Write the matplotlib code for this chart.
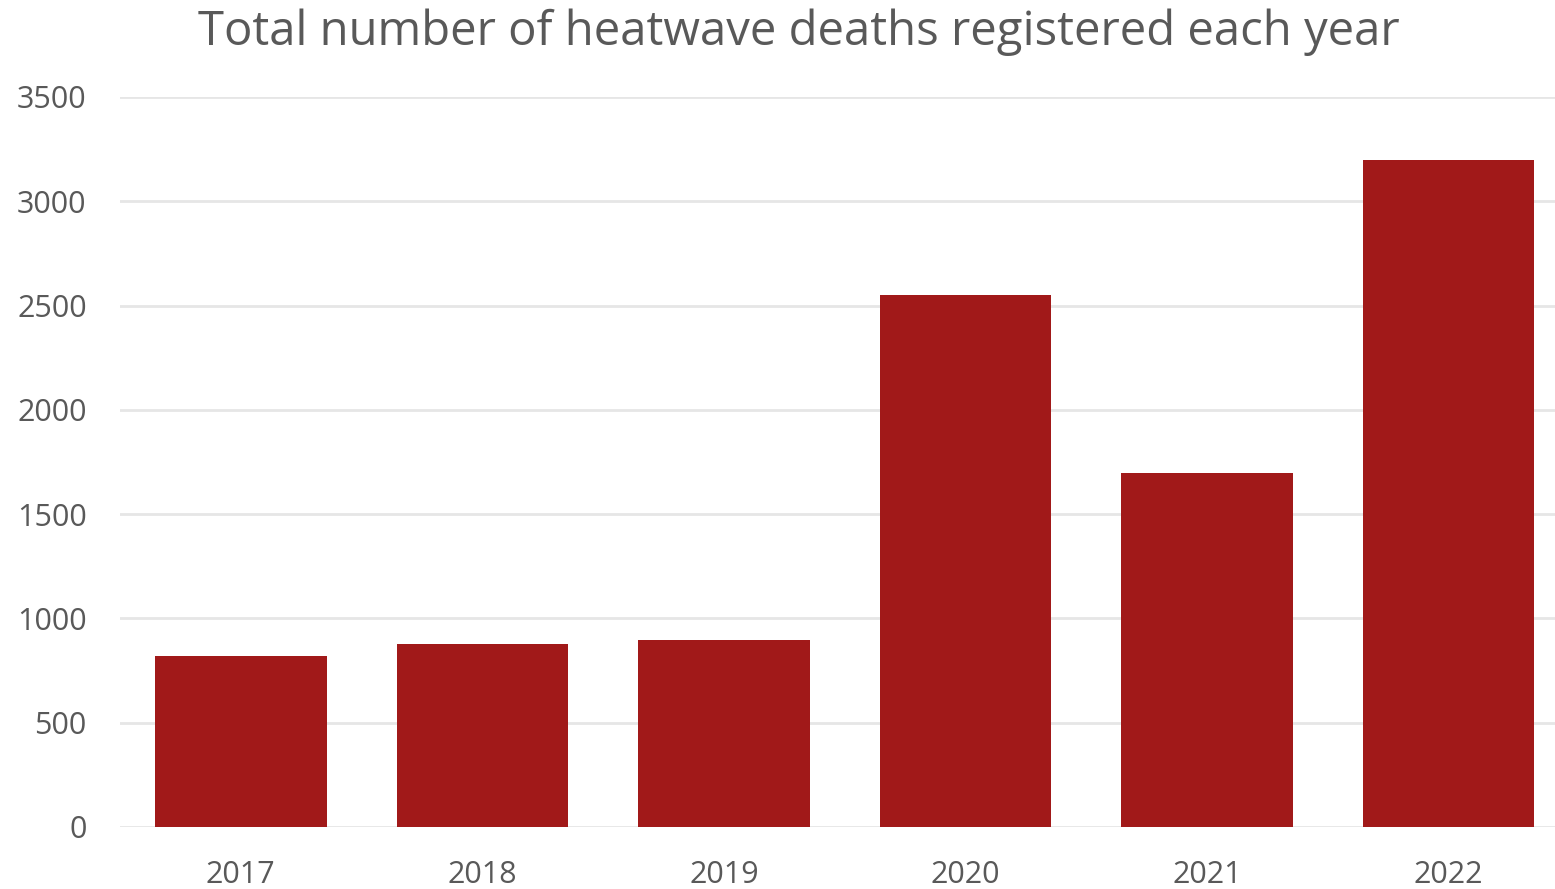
import matplotlib.pyplot as plt

years = ["2017", "2018", "2019", "2020", "2021", "2022"]
deaths = [820, 878, 896, 2552, 1698, 3198]

bar_colour = "#a11919"
text_colour = "#595959"

plt.rcParams["font.family"] = ["Open Sans", "DejaVu Sans"]

fig = plt.figure(figsize=(15.55, 8.89), dpi=100)
ax = fig.add_axes([120 / 1555, 62 / 889, 1 - 120 / 1555, 730 / 889])

ax.bar(range(len(years)), deaths, width=0.71, color=bar_colour, zorder=3)

ax.set_xlim(-0.5, 5.44)
ax.set_ylim(0, 3500)
ax.set_yticks(range(0, 3501, 500))
ax.set_xticks(range(len(years)))
ax.set_xticklabels(years)

ax.grid(axis="y", color="#e6e6e6", linewidth=2, zorder=0)
for s in ax.spines.values():
    s.set_visible(False)
ax.tick_params(axis="both", length=0, labelsize=22, labelcolor=text_colour)
ax.tick_params(axis="y", pad=24)
ax.tick_params(axis="x", pad=24)

fig.text(0.514, 0.99, "Total number of heatwave deaths registered each year",
         ha="center", va="top", fontsize=34, color=text_colour)

fig.savefig("out.png", dpi=100)
